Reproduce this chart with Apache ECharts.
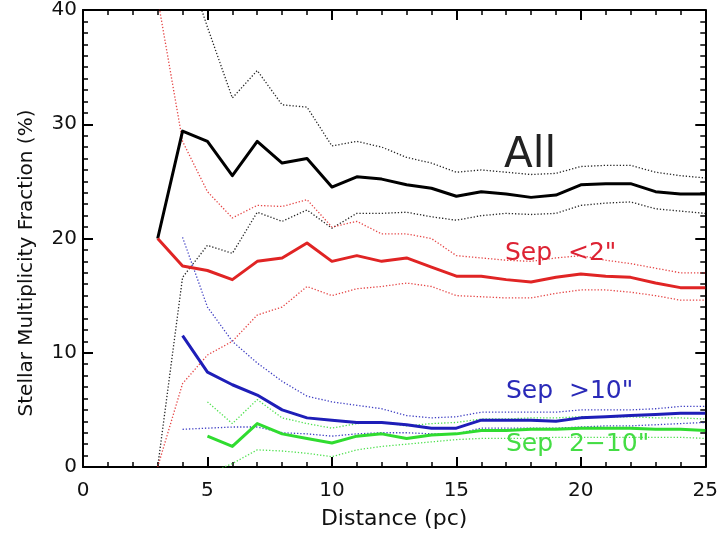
<!DOCTYPE html>
<html>
<head>
<meta charset="utf-8">
<title>Stellar Multiplicity Fraction vs Distance</title>
<script src="https://cdn.jsdelivr.net/npm/echarts@6/dist/echarts.min.js"></script>
<style>
  html, body { margin: 0; padding: 0; background: #fff; }
  #chart { width: 721px; height: 537px; }
</style>
</head>
<body>
<div id="chart"></div>
<script>
// Distance bins (pc)
const distance = [3, 4, 5, 6, 7, 8, 9, 10, 11, 12, 13, 14, 15, 16, 17, 18, 19, 20, 21, 22, 23, 24, 25];

// All companions: fraction with upper / lower bounds (%)
const allFrac = [20.0, 29.4, 28.5, 25.5, 28.5, 26.6, 27.0, 24.5, 25.4, 25.2, 24.7, 24.4, 23.7, 24.1, 23.9, 23.6, 23.8, 24.7, 24.8, 24.8, 24.1, 23.9, 23.9];
const allHi   = [null, 45.0, 38.5, 32.3, 34.7, 31.7, 31.5, 28.1, 28.5, 28.0, 27.1, 26.6, 25.8, 26.0, 25.8, 25.6, 25.7, 26.3, 26.4, 26.4, 25.8, 25.5, 25.3];
const allLo   = [0.0, 16.6, 19.4, 18.7, 22.3, 21.5, 22.5, 20.9, 22.2, 22.2, 22.3, 21.9, 21.6, 22.0, 22.2, 22.1, 22.2, 22.9, 23.1, 23.2, 22.6, 22.4, 22.2];

// Separation < 2"
const closeFrac = [20.0, 17.6, 17.2, 16.4, 18.0, 18.3, 19.6, 18.0, 18.5, 18.0, 18.3, 17.5, 16.7, 16.7, 16.4, 16.2, 16.6, 16.9, 16.7, 16.6, 16.1, 15.7, 15.7];
const closeHi   = [41.0, 28.5, 24.1, 21.8, 22.9, 22.8, 23.4, 21.0, 21.5, 20.4, 20.4, 20.0, 18.5, 18.3, 18.1, 18.0, 18.3, 18.5, 18.1, 17.8, 17.4, 17.0, 17.0];
const closeLo   = [0.0, 7.3, 9.8, 11.0, 13.3, 14.0, 15.8, 15.0, 15.6, 15.8, 16.1, 15.8, 15.0, 14.9, 14.8, 14.8, 15.2, 15.5, 15.5, 15.3, 15.0, 14.6, 14.6];

// Separation > 10"
const wideFrac = [null, 11.5, 8.3, 7.2, 6.3, 5.0, 4.3, 4.1, 3.9, 3.9, 3.7, 3.4, 3.4, 4.1, 4.1, 4.1, 4.0, 4.3, 4.4, 4.5, 4.6, 4.7, 4.7];
const wideHi   = [null, 20.1, 14.0, 11.0, 9.1, 7.5, 6.2, 5.7, 5.4, 5.1, 4.5, 4.3, 4.4, 4.8, 4.8, 4.8, 4.8, 5.0, 5.0, 5.0, 5.1, 5.3, 5.3];
const wideLo   = [null, 3.3, 3.4, 3.5, 3.5, 3.0, 2.9, 2.7, 2.9, 3.0, 3.0, 2.9, 2.9, 3.4, 3.4, 3.4, 3.4, 3.5, 3.6, 3.6, 3.7, 3.8, 3.9];

// Separation 2-10"
const midFrac = [null, null, 2.7, 1.8, 3.8, 2.9, 2.5, 2.1, 2.7, 2.9, 2.5, 2.8, 2.9, 3.2, 3.2, 3.3, 3.3, 3.4, 3.4, 3.4, 3.3, 3.3, 3.2];
const midHi   = [null, null, 5.7, 3.8, 5.9, 4.3, 3.8, 3.4, 3.8, 3.9, 3.6, 3.8, 3.9, 4.2, 4.2, 4.3, 4.3, 4.4, 4.4, 4.4, 4.3, 4.3, 4.2];
const midLo   = [null, null, -0.6, 0.3, 1.5, 1.4, 1.2, 0.9, 1.5, 1.8, 2.0, 2.2, 2.4, 2.5, 2.5, 2.5, 2.6, 2.6, 2.6, 2.6, 2.6, 2.6, 2.5];

// Axis ticks
const xTicks = [0, 5, 10, 15, 20, 25];
const yTicks = [0, 10, 20, 30, 40];

const FONT = '"DejaVu Sans", "Liberation Sans", sans-serif';
const RED = '#e02424', BLUE = '#1e1eb8', GREEN = '#30dc30', BLACK = '#000000';

function pairs(values) {
  return distance.map((d, i) => [d, values[i]]);
}

function solid(name, values, color) {
  return {
    name, type: 'line', data: pairs(values), showSymbol: false, symbol: 'none',
    clip: true, z: 5,
    lineStyle: { color, width: 3, type: 'solid', join: 'round' }
  };
}

function dotted(name, values, color) {
  return {
    name, type: 'line', data: pairs(values), showSymbol: false, symbol: 'none',
    clip: true, z: 3,
    lineStyle: { color, width: 1.3, type: [1.3, 1.9], opacity: 0.85 }
  };
}

const tickStyle = { color: '#000', width: 2 };

function xAxisDef(pos, showLabels) {
  return {
    type: 'value', position: pos, min: xTicks[0], max: xTicks[xTicks.length - 1],
    interval: xTicks[1] - xTicks[0],
    name: showLabels ? 'Distance (pc)' : '',
    nameLocation: 'middle', nameGap: 41,
    nameTextStyle: { fontFamily: FONT, fontSize: 22, color: '#111' },
    axisLine: { show: true, onZero: false, lineStyle: tickStyle },
    axisTick: { show: true, inside: true, length: 10, lineStyle: tickStyle },
    minorTick: { show: true, splitNumber: 5, length: 5, lineStyle: { color: '#000', width: 1.5 } },
    splitLine: { show: false },
    axisLabel: { show: showLabels, fontFamily: FONT, fontSize: 20, color: '#111', margin: 14 }
  };
}

function yAxisDef(pos, showLabels) {
  return {
    type: 'value', position: pos, min: yTicks[0], max: yTicks[yTicks.length - 1],
    interval: yTicks[1] - yTicks[0],
    axisLine: { show: true, onZero: false, lineStyle: tickStyle },
    axisTick: { show: true, inside: true, length: 10, lineStyle: tickStyle },
    minorTick: { show: true, splitNumber: 10, length: 5, lineStyle: { color: '#000', width: 1.5 } },
    splitLine: { show: false },
    axisLabel: { show: showLabels, fontFamily: FONT, fontSize: 20, color: '#111', margin: 6 }
  };
}

function label(text, x, y, size, color) {
  return {
    type: 'text', x, y, z: 10,
    style: { text, fontFamily: FONT, fontSize: size, fill: color, verticalAlign: 'middle', align: 'left' }
  };
}

const chart = echarts.init(document.getElementById('chart'), null, { renderer: 'canvas' });
chart.setOption({
  backgroundColor: '#fff',
  animation: false,
  grid: { left: 83, right: 13, top: 10, bottom: 70, containLabel: false },
  xAxis: [xAxisDef('bottom', true), xAxisDef('top', false)],
  yAxis: [yAxisDef('left', true), yAxisDef('right', false)],
  series: [
    dotted('All upper', allHi, BLACK),
    dotted('All lower', allLo, BLACK),
    dotted('Sep <2" upper', closeHi, RED),
    dotted('Sep <2" lower', closeLo, RED),
    dotted('Sep >10" upper', wideHi, BLUE),
    dotted('Sep >10" lower', wideLo, BLUE),
    dotted('Sep 2-10" upper', midHi, GREEN),
    dotted('Sep 2-10" lower', midLo, GREEN),
    solid('All', allFrac, BLACK),
    solid('Sep <2"', closeFrac, RED),
    solid('Sep >10"', wideFrac, BLUE),
    solid('Sep 2-10"', midFrac, GREEN)
  ],
  graphic: [
    // vertical axis title, read bottom to top
    {
      type: 'text', x: 27, y: 263, rotation: Math.PI / 2, z: 10,
      style: {
        text: 'Stellar Multiplicity Fraction (%)', fontFamily: FONT, fontSize: 20,
        fill: '#111', align: 'center', verticalAlign: 'middle'
      }
    },
    label('All', 504, 156, 42, '#222'),
    label('Sep  <2"', 505, 253, 25, '#dd2233'),
    label('Sep  >10"', 506, 391, 25, '#2a2ab8'),
    label('Sep  2\u221210"', 506, 444, 25, '#44dd44')
  ]
});
</script>
</body>
</html>
